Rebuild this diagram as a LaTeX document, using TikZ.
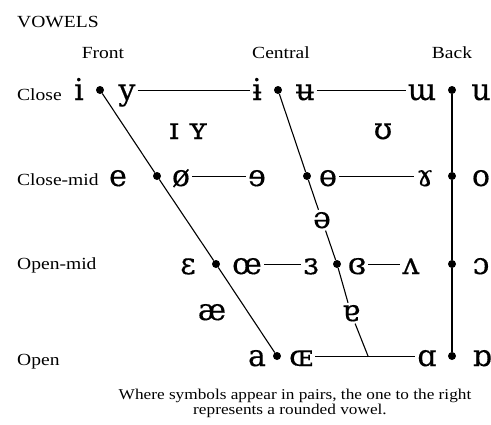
\documentclass[tikz,border=0pt]{standalone}
\usepackage{fontspec}
\setmainfont[FakeStretch=1.15]{Liberation Serif}
\newfontfamily\ipafont[FakeBold=0.3]{DejaVu Serif}
\usetikzlibrary{positioning}

\tikzset{
	dot/.style={circle, fill=black, inner sep=0pt, minimum size=8pt},
	sym/.style={anchor=base, inner sep=2pt, font=\ipafont\fontsize{30}{30}\selectfont},
	lbl/.style={anchor=base west, inner sep=0pt, font=\fontsize{17}{17}\selectfont},
	hdr/.style={anchor=base, inner sep=0pt, font=\fontsize{17}{17}\selectfont},
	note/.style={anchor=base, inner sep=0pt, font=\fontsize{15}{15}\selectfont},
	rim/.style={line width=1.1pt},
	rung/.style={line width=0.8pt}
}

\begin{document}
\begin{tikzpicture}[x=1pt,y=-1pt]
		\useasboundingbox (0,0) rectangle (491,424);
		% headings
		\node[lbl] (title) at (17,27) {VOWELS};
		\node[hdr] (front) at (103,58) {Front};
		\node[hdr] (central) at (281,58) {Central};
		\node[hdr] (back) at (452,58) {Back};
		\node[lbl] (close) at (17,100) {Close};
		\node[lbl] (closemid) at (17,185) {Close-mid};
		\node[lbl] (openmid) at (17,269) {Open-mid};
		\node[lbl] (open) at (17,365) {Open};
		% dots
		\node[dot] (fc) at (100,90) {};
		\node[dot] (fcm) at (157,176) {};
		\node[dot] (fom) at (216,264) {};
		\node[dot] (fo) at (277,356) {};
		\node[dot] (cc) at (278,90) {};
		\node[dot] (ccm) at (307,176) {};
		\node[dot] (com) at (337,264) {};
		\coordinate (cjoin) at (368,356);
		\node[dot] (bc) at (452,90) {};
		\node[dot] (bcm) at (452,176) {};
		\node[dot] (bom) at (452,264) {};
		\node[dot] (bo) at (452,356) {};
		% close
		\node[sym] (i) at (79,100) {i};
		\node[sym] (y) at (127,100) {y};
		\node[sym] (ibar) at (257,100) {ɨ};
		\node[sym] (ubar) at (305,100) {ʉ};
		\node[sym] (turnm) at (422,100) {ɯ};
		\node[sym] (u) at (481,100) {u};
		\node[sym] (capi) at (174,139) {ɪ};
		\node[sym] (capy) at (198,139) {ʏ};
		\node[sym] (upsilon) at (383,139) {ʊ};
		% close-mid
		\node[sym] (e) at (118,186) {e};
		\node[sym] (oslash) at (181,186) {ø};
		\node[sym] (reve) at (257,186) {ɘ};
		\node[sym] (baro) at (328,186) {ɵ};
		\node[sym] (ramshorn) at (425,186) {ɤ};
		\node[sym] (o) at (481,186) {o};
		\node[sym] (schwa) at (322,228) {ə};
		% open-mid
		\node[sym] (eps) at (188,274) {ɛ};
		\node[sym] (oe) at (247,274) {œ};
		\node[sym] (reveps) at (311,274) {ɜ};
		\node[sym] (closedeps) at (357,274) {ɞ};
		\node[sym] (turnv) at (411,274) {ʌ};
		\node[sym] (openo) at (481,274) {ɔ};
		\node[sym] (ae) at (212,320) {æ};
		\node[sym] (turna) at (351,321) {ɐ};
		% open
		\node[sym] (a) at (257,366) {a};
		\node[sym] (capoe) at (301,366) {ɶ};
		\node[sym] (scripta) at (427,366) {ɑ};
		\node[sym] (turnscripta) at (482,366) {ɒ};
		% lines
		\draw[rung] (y.east |- fc) -- (ibar.west |- cc);
		\draw[rung] (ubar.east |- cc) -- (turnm.west |- bc);
		\draw[rung] (oslash.east |- fcm) -- (reve.west |- ccm);
		\draw[rung] (baro.east |- ccm) -- (ramshorn.west |- bcm);
		\draw[rung] (oe.east |- fom) -- (reveps.west |- com);
		\draw[rung] (closedeps.east |- com) -- (turnv.west |- bom);
		\draw[rung] (capoe.east |- fo) -- (scripta.west |- bo);
		\draw[rim] (fc) -- (fcm) -- (fom) -- (fo);
		\draw[rim] (cc) -- (ccm) -- (schwa);
		\draw[rim] (schwa) -- (com) -- (turna);
		\draw[rim] (turna) -- (cjoin);
		\draw[rim] (bc) -- (bcm) -- (bom) -- (bo);
		% caption
		\node[note] (note1) at (295,399) {Where symbols appear in pairs, the one to the right};
		\node[note] (note2) at (290,414) {represents a rounded vowel.};
	\end{tikzpicture}
\end{document}
